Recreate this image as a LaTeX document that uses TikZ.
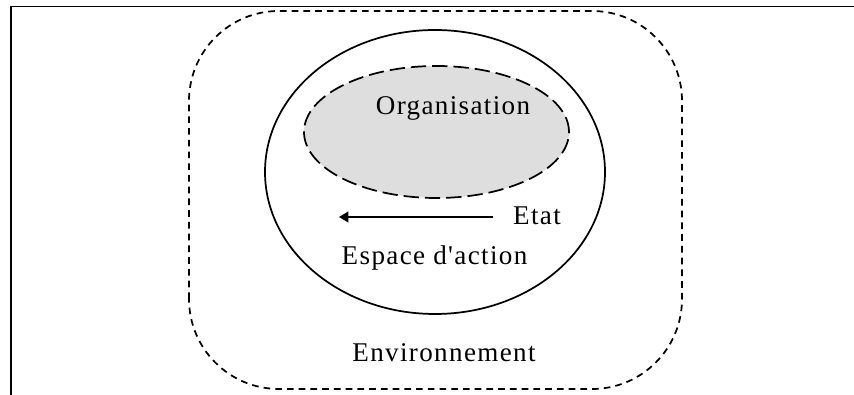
\documentclass[tikz,border=0pt]{standalone}
\usepackage{fontspec}
\setmainfont{Liberation Serif}[LetterSpace=5, Ligatures=TeXOff]
\usetikzlibrary{arrows.meta}
\definecolor{orgfill}{RGB}{222,222,222}
\begin{document}
\begin{tikzpicture}[x=0.75pt,y=0.75pt,
  lbl/.style={anchor=base, inner sep=0pt, font=\fontsize{20.3}{24}\selectfont},
  frameline/.style={line width=1.4pt},
  solidline/.style={line width=1.3pt},
  envdash/.style={line width=1.3pt, dash pattern=on 5pt off 3.8pt},
  orgdash/.style={line width=1.3pt, dash pattern=on 11.5pt off 4.5pt}]
\useasboundingbox (0,0) rectangle (854,395);
% frame (top and left edges)
\draw[frameline] (11,0) -- (11,388.5) -- (854,388.5);
% environment
\draw[envdash, rounded corners=67.5pt] (189,6) rectangle (682,384);
% action space
\draw[solidline] (435,223) ellipse [x radius=170, y radius=142];
% organisation
\fill[orgfill] (436.5,263) ellipse [x radius=132.5, y radius=66];
\draw[orgdash] (436.5,263) ellipse [x radius=132.5, y radius=66];
% texts
\node[lbl] (org) at (453,280) {Organisation};
\node[lbl] (etat) at (537,170) {Etat};
\node[lbl] (esp) at (434.5,130) {Espace d'action};
\node[lbl] (env) at (444,33) {Environnement};
% arrow
\coordinate (astart) at (493,178);
\coordinate (aend) at (339,178);
\draw[solidline, -{Triangle[length=7pt,width=8pt]}] (astart) -- (aend);
\end{tikzpicture}
\end{document}
